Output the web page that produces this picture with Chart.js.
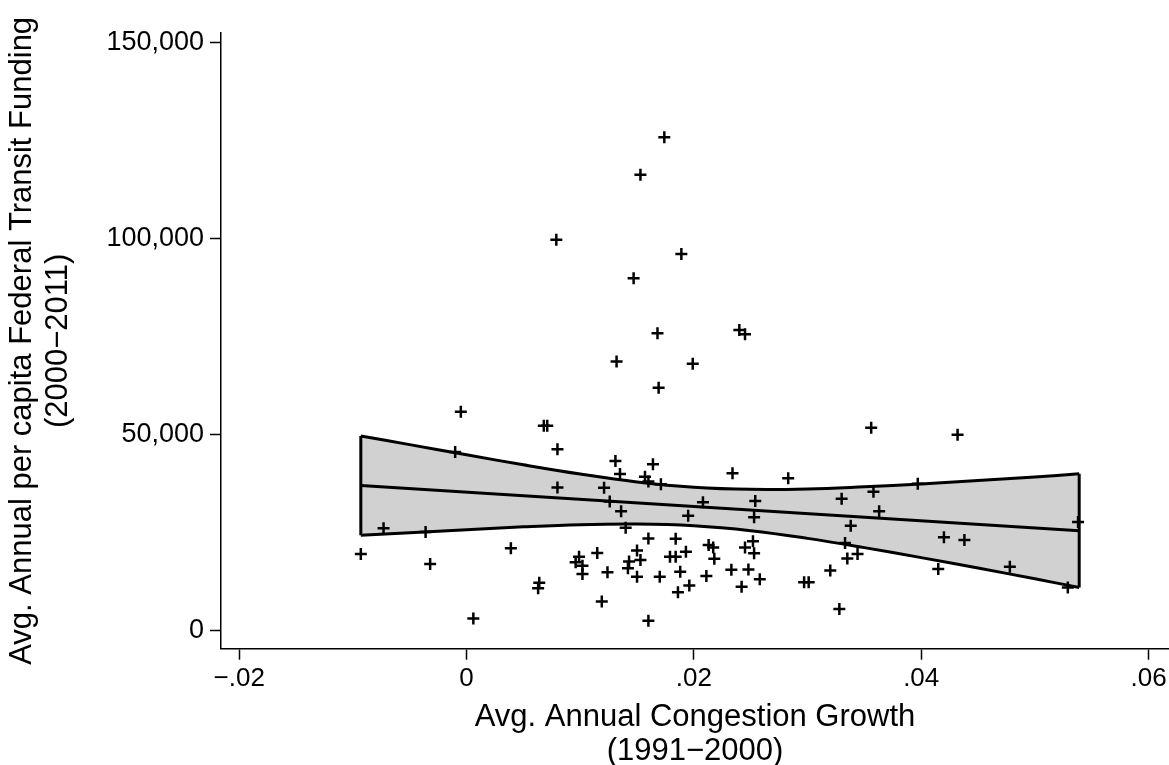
<!DOCTYPE html>
<html>
<head>
<meta charset="utf-8">
<script src="https://cdn.jsdelivr.net/npm/chart.js@4/dist/chart.umd.min.js"></script>
<style>
  html, body { margin: 0; padding: 0; background: #fff; }
  #wrap { width: 1169px; height: 765px; }
</style>
</head>
<body>
<div id="wrap"><canvas id="chart" width="1169" height="765"></canvas></div>
<script>
// scatter: congestion growth vs federal transit funding
const congestion = [-0.0093, -0.0073, -0.0036, -0.0032, -0.0005, -0.0010, 0.0006, 0.0039, 0.0068, 0.0071,
  0.0080, 0.0080, 0.0064, 0.0063, 0.0079, 0.0099, 0.0096, 0.0102, 0.0102, 0.0115,
  0.0124, 0.0121, 0.0126, 0.0131, 0.0135, 0.0136, 0.0140, 0.0143, 0.0142, 0.0119,
  0.0132, 0.0147, 0.0153, 0.0174, 0.0189, 0.0168, 0.0199, 0.0169, 0.0240, 0.0245,
  0.0164, 0.0157, 0.0160, 0.0171, 0.0234, 0.0283, 0.0208, 0.0254, 0.0195, 0.0253,
  0.0330, 0.0358, 0.0363, 0.0338, 0.0160, 0.0184, 0.0150, 0.0153, 0.0150, 0.0170,
  0.0179, 0.0184, 0.0193, 0.0188, 0.0186, 0.0196, 0.0211, 0.0213, 0.0217, 0.0218,
  0.0233, 0.0242, 0.0248, 0.0245, 0.0252, 0.0253, 0.0258, 0.0297, 0.0301, 0.0320,
  0.0328, 0.0333, 0.0335, 0.0344, 0.0160, 0.0356, 0.0432, 0.0397, 0.0420, 0.0438,
  0.0415, 0.0478, 0.0529, 0.0538];
const funding = [19600, 26200, 25200, 17100, 55900, 45600, 3200, 21100, 52300, 52300,
  46300, 36600, 12300, 10900, 99700, 18900, 17500, 16600, 14500, 19900,
  15000, 36500, 33000, 43300, 40000, 30500, 26300, 17700, 16000, 7500,
  68700, 89900, 116300, 125800, 96100, 75900, 68100, 62000, 76700, 75600,
  42500, 39300, 38100, 37400, 40200, 38900, 32800, 33100, 29400, 29000,
  33700, 35500, 30500, 26800, 23600, 23500, 20500, 18100, 13800, 13800,
  18900, 18900, 20200, 15100, 9900, 11600, 14000, 21900, 21300, 18400,
  15600, 11300, 15700, 21300, 22900, 19800, 13200, 12400, 12400, 15400,
  5600, 22400, 18500, 19600, 2600, 51800, 50000, 37500, 23900, 23200,
  15800, 16400, 11100, 27800];

// fitted line and confidence band
const fitX = [-0.0093, 0.0539];
const fitY = [37050, 25570];
const bandX = [-0.0093, -0.005, 0, 0.005, 0.01, 0.015, 0.02, 0.025, 0.03, 0.035, 0.04, 0.045, 0.05, 0.0539];
const bandUpper = [49700, 47500, 44900, 42350, 40000, 38000, 36650, 36100, 36200, 36750, 37450, 38350, 39250, 40050];
const bandLower = [24400, 25050, 25800, 26550, 27100, 27250, 26800, 25550, 23600, 21250, 18700, 16050, 13300, 11100];

const xTicks = [-0.02, 0, 0.02, 0.04, 0.06];
const xTickLabels = ['\u2212.02', '0', '.02', '.04', '.06'];
const yTicks = [0, 50000, 100000, 150000];
const yTickLabels = ['0', '50,000', '100,000', '150,000'];

const FONT = '"Liberation Sans", Arial, Helvetica, sans-serif';

const pts = congestion.map((x, i) => ({ x: x, y: funding[i] }));
const upper = bandX.map((x, i) => ({ x: x, y: bandUpper[i] }));
const lower = bandX.map((x, i) => ({ x: x, y: bandLower[i] }));
const last = bandX.length - 1;
const leftEdge = [{ x: bandX[0], y: bandLower[0] }, { x: bandX[0], y: bandUpper[0] }];
const rightEdge = [{ x: bandX[last], y: bandLower[last] }, { x: bandX[last], y: bandUpper[last] }];
const fit = fitX.map((x, i) => ({ x: x, y: fitY[i] }));

const lineBase = { type: 'line', borderColor: '#000', borderWidth: 3, pointRadius: 0, fill: false };

new Chart(document.getElementById('chart'), {
  type: 'scatter',
  data: {
    datasets: [
      { data: pts, pointStyle: 'cross', pointRadius: 6, pointBorderWidth: 2.5,
        borderColor: '#000', backgroundColor: '#000', order: 0 },
      Object.assign({}, lineBase, { data: fit, order: 1 }),
      Object.assign({}, lineBase, { data: upper, fill: '+1', backgroundColor: '#d1d1d1', tension: 0.4, order: 3 }),
      Object.assign({}, lineBase, { data: lower, tension: 0.4, order: 2 }),
      Object.assign({}, lineBase, { data: leftEdge, order: 2 }),
      Object.assign({}, lineBase, { data: rightEdge, order: 2 })
    ]
  },
  options: {
    responsive: false,
    animation: false,
    layout: { autoPadding: false, padding: { top: 33, right: 0, left: 0, bottom: 0 } },
    plugins: { legend: { display: false }, tooltip: { enabled: false } },
    scales: {
      x: {
        type: 'linear',
        min: -0.0216,
        max: 0.0618,
        afterBuildTicks: s => { s.ticks = xTicks.map(v => ({ value: v })); },
        afterFit: s => { s.height = 116.3; s.paddingRight = 0; s.paddingLeft = 0; },
        grid: { drawOnChartArea: false, drawTicks: true, tickLength: 11, tickColor: '#000', tickWidth: 1.5 },
        border: { display: true, color: '#000', width: 1.5 },
        ticks: {
          color: '#000', padding: 4, maxRotation: 0,
          font: { family: FONT, size: 26 },
          callback: (v) => xTickLabels[xTicks.indexOf(v)]
        },
        title: {
          display: true,
          text: ['Avg. Annual Congestion Growth', '(1991\u22122000)'],
          color: '#000',
          font: { family: FONT, size: 31, lineHeight: 1.1 },
          padding: { top: 0, bottom: -4 }
        }
      },
      y: {
        type: 'linear',
        min: -4513,
        max: 152400,
        afterBuildTicks: s => { s.ticks = yTicks.map(v => ({ value: v })); },
        afterFit: s => { s.width = 221; s.paddingTop = 0; s.paddingBottom = 0; },
        grid: { drawOnChartArea: false, drawTicks: true, tickLength: 11, tickColor: '#000', tickWidth: 1.5 },
        border: { display: true, color: '#000', width: 1.5 },
        ticks: {
          color: '#000', padding: 6,
          font: { family: FONT, size: 27 },
          callback: (v) => yTickLabels[yTicks.indexOf(v)]
        },
        title: {
          display: true,
          text: ['Avg. Annual per capita Federal Transit Funding', '(2000\u22122011)'],
          color: '#000',
          font: { family: FONT, size: 31, lineHeight: 1.15 },
          padding: { top: 5, bottom: 0 }
        }
      }
    }
  }
});
</script>
</body>
</html>
